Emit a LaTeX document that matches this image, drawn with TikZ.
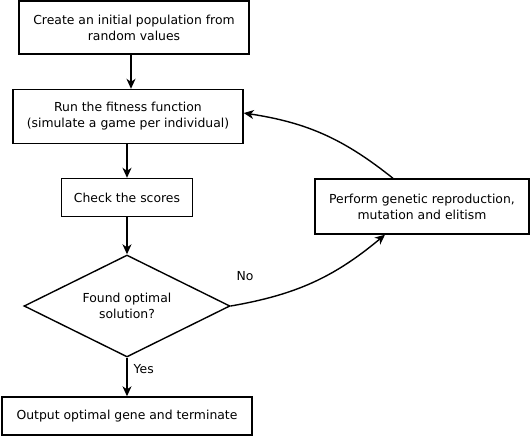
\documentclass[tikz,border=0pt]{standalone}
\usepackage{fontspec}
\setmainfont{DejaVu Sans}
\usetikzlibrary{shapes.geometric,arrows.meta}
\begin{document}
\begin{tikzpicture}[x=1pt,y=-1pt,
  box/.style={draw,line width=1.4pt,align=center,font=\fontsize{12.4}{16}\selectfont,inner sep=0pt},
  dec/.style={draw,diamond,line width=1.4pt,align=center,font=\fontsize{12.4}{16}\selectfont,inner sep=0pt,aspect=2},
  arr/.style={line width=1.4pt,-{Stealth[length=10pt,width=9pt,inset=3pt]}},
  lbl/.style={font=\fontsize{12.4}{13}\selectfont,inner sep=0pt}]
\useasboundingbox (0,0) rectangle (531,437);
\node[box,minimum width=230,minimum height=53] (init) at (134,27.5) {Create an initial population from\\random values};
\node[box,minimum width=230,minimum height=54] (fit) at (128,116.5) {Run the fitness function\\(simulate a game per individual)};
\node[box,minimum width=131,minimum height=38] (check) at (127,197.5) {Check the scores};
\node[dec,minimum width=206,minimum height=102] (found) at (127,306) {Found optimal\\solution?};
\node[box,minimum width=214,minimum height=55] (gen) at (422,206.5) {Perform genetic reproduction,\\mutation and elitism};
\node[box,minimum width=250,minimum height=38] (out) at (127,416) {Output optimal gene and terminate};
\draw[arr] ([xshift=-3pt]init.south) -- ([xshift=3pt]fit.north);
\draw[arr] ([xshift=-1pt]fit.south) -- (check.north);
\draw[arr] (check.south) -- (found.north);
\draw[arr] (found.south) -- node[lbl,right=6pt,pos=0.3] (yes) {Yes} (out.north);
\draw[arr] (found.east) to[bend right=15] ([xshift=-37pt]gen.south);
\node[lbl] (no) at (245,276) {No};
\draw[arr] ([xshift=-29pt]gen.north) to[bend right=15] ([yshift=3.5pt]fit.east);
\end{tikzpicture}
\end{document}
